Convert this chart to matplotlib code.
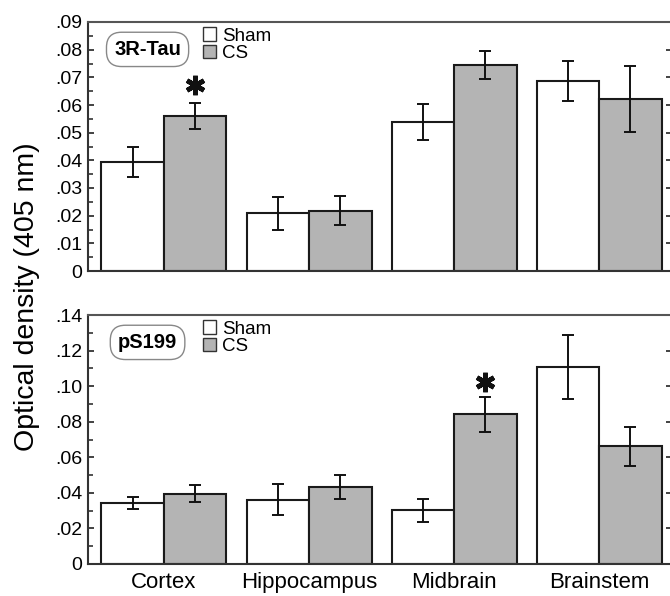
import matplotlib
matplotlib.use("Agg")
import matplotlib.pyplot as plt
import numpy as np

plt.rcParams['font.family'] = ['Liberation Sans', 'DejaVu Sans']

categories = ['Cortex', 'Hippocampus', 'Midbrain', 'Brainstem']
series_labels = ['Sham', 'CS']

tau_sham = [0.0393, 0.0208, 0.0539, 0.0687]
tau_sham_err = [0.0055, 0.0058, 0.0064, 0.0073]
tau_cs = [0.0561, 0.0218, 0.0745, 0.0621]
tau_cs_err = [0.0048, 0.0052, 0.0050, 0.0119]

ps_sham = [0.0343, 0.0362, 0.0302, 0.1108]
ps_sham_err = [0.0031, 0.0086, 0.0064, 0.0182]
ps_cs = [0.0394, 0.0433, 0.0841, 0.0662]
ps_cs_err = [0.0048, 0.0070, 0.0097, 0.0109]

tau_ticks = [0, 0.01, 0.02, 0.03, 0.04, 0.05, 0.06, 0.07, 0.08, 0.09]
tau_ticklabels = ['0', '.01', '.02', '.03', '.04', '.05', '.06', '.07', '.08', '.09']
ps_ticks = [0, 0.02, 0.04, 0.06, 0.08, 0.10, 0.12, 0.14]
ps_ticklabels = ['0', '.02', '.04', '.06', '.08', '.10', '.12', '.14']

tau_sig = [0]   # CS significant at Cortex
ps_sig = [2]    # CS significant at Midbrain

W, H = 670, 596
fig = plt.figure(figsize=(W / 100, H / 100), dpi=100)

def px_axes(left, top, right, bottom):
    return fig.add_axes([left / W, 1 - bottom / H, (right - left) / W, (bottom - top) / H])

ax1 = px_axes(88, 22, 672, 271)
ax2 = px_axes(88, 315, 672, 564)

x = np.arange(len(categories))
bw = 0.431
gray = '#b4b4b4'

def draw(ax, sham, sham_err, cs, cs_err, ticks, ticklabels, minor_step, name, sig, sig_off):
    b1 = ax.bar(x - bw / 2, sham, bw, color='white', edgecolor='#1a1a1a', linewidth=1.5, zorder=2)
    b2 = ax.bar(x + bw / 2, cs, bw, color=gray, edgecolor='#1a1a1a', linewidth=1.5, zorder=2)
    ax.errorbar(x - bw / 2, sham, yerr=sham_err, fmt='none', ecolor='#111111', elinewidth=1.4,
                capsize=4, capthick=1.4, zorder=3)
    ax.errorbar(x + bw / 2, cs, yerr=cs_err, fmt='none', ecolor='#111111', elinewidth=1.4,
                capsize=4, capthick=1.4, zorder=3)
    ax.set_xlim(-0.524, 3.503)
    ax.set_ylim(ticks[0], ticks[-1])
    ax.set_yticks(ticks)
    ax.set_yticklabels(ticklabels)
    ax.set_yticks(np.arange(ticks[0], ticks[-1] + 1e-9, minor_step), minor=True)
    ax.tick_params(axis='y', which='major', direction='in', length=4, width=1.2, labelsize=14,
                   pad=4, right=True, colors='#222222', labelcolor='black')
    ax.tick_params(axis='y', which='minor', direction='in', length=3.5, width=1.1, right=False,
                   colors='#222222')
    ax.tick_params(axis='x', length=0, labelsize=16, pad=6)
    for s in ['left', 'bottom', 'right']:
        ax.spines[s].set_linewidth(1.5)
        ax.spines[s].set_color('#333333')
    ax.spines['top'].set_linewidth(1.5)
    ax.spines['top'].set_color('#555555')
    ax.text(0.102, 0.89, name, transform=ax.transAxes, ha='center', va='center',
            fontsize=14.5, fontweight='bold',
            bbox=dict(boxstyle='round,pad=0.38,rounding_size=0.75', facecolor='white',
                      edgecolor='#888888', linewidth=1.0))
    leg = ax.legend([b1, b2], series_labels, loc='upper left', bbox_to_anchor=(0.197, 0.978),
                    frameon=False, fontsize=13.5, handlelength=0.7, handleheight=0.7,
                    handletextpad=0.3, labelspacing=0.0, borderpad=0, borderaxespad=0)
    for p in leg.get_patches():
        p.set_linewidth(1.0)
        p.set_edgecolor('#333333')
    for i in sig:
        yv = cs[i] + cs_err[i] + sig_off
        ax.plot([x[i] + bw / 2], [yv], marker=(6, 2, 0), markersize=14, markeredgewidth=3.4,
                color='#111111', linestyle='none', zorder=4)

draw(ax1, tau_sham, tau_sham_err, tau_cs, tau_cs_err, tau_ticks, tau_ticklabels, 0.005,
     '3R-Tau', tau_sig, 0.0062)
draw(ax2, ps_sham, ps_sham_err, ps_cs, ps_cs_err, ps_ticks, ps_ticklabels, 0.01,
     'pS199', ps_sig, 0.0085)

ax1.set_xticks(x)
ax1.set_xticklabels([])
ax2.set_xticks(x)
ax2.set_xticklabels(categories)

fig.text(27 / W, 1 - 297 / H, 'Optical density (405 nm)', rotation=90, ha='center', va='center',
         fontsize=20.5)

fig.savefig('out.png', dpi=100)
